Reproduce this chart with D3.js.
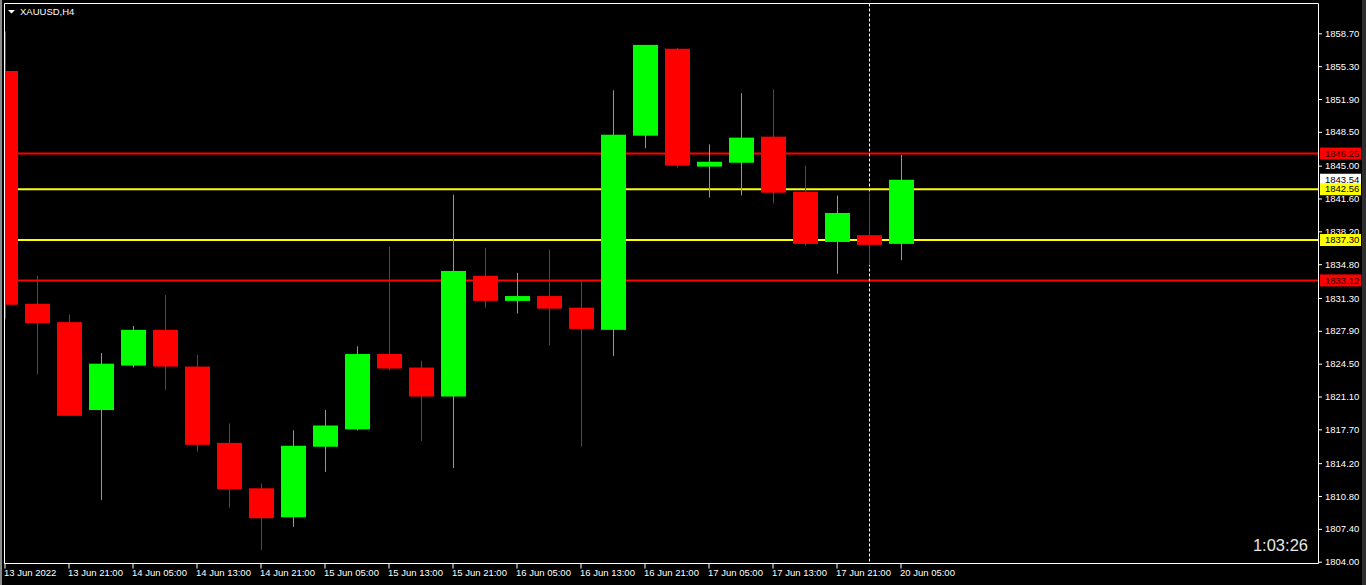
<!DOCTYPE html>
<html>
<head>
<meta charset="utf-8">
<script src="https://cdn.jsdelivr.net/npm/d3@7"></script>
<style>
  html, body { margin: 0; padding: 0; background: #000; overflow: hidden; }
  svg { display: block; }
  text { font-family: "Liberation Sans", Arial, sans-serif; }
</style>
</head>
<body>
<svg id="chart" width="1366" height="585"></svg>
<script>
// XAUUSD H4 candles
var candleTimes = ["13 Jun 13:00","13 Jun 17:00","13 Jun 21:00","14 Jun 01:00","14 Jun 05:00","14 Jun 09:00",
    "14 Jun 13:00","14 Jun 17:00","14 Jun 21:00","15 Jun 01:00","15 Jun 05:00","15 Jun 09:00","15 Jun 13:00",
    "15 Jun 17:00","15 Jun 21:00","16 Jun 01:00","16 Jun 05:00","16 Jun 09:00","16 Jun 13:00","16 Jun 17:00",
    "16 Jun 21:00","17 Jun 01:00","17 Jun 05:00","17 Jun 09:00","17 Jun 13:00","17 Jun 17:00","17 Jun 21:00",
    "20 Jun 01:00","20 Jun 05:00"];
var opens  = [1854.8,1830.7,1828.8,1819.7,1824.3,1828.0,1824.2,1816.3,1811.6,1808.6,1815.9,1817.7,1825.5,
    1824.1,1821.1,1833.6,1831.0,1831.5,1830.3,1828.0,1848.1,1857.1,1844.9,1845.3,1848.0,1842.3,1837.1,1837.8,1836.9];
var highs  = [1858.9,1833.6,1829.6,1825.6,1828.4,1831.6,1825.4,1818.3,1812.1,1817.6,1819.7,1826.3,1836.6,
    1824.8,1842.0,1836.5,1833.9,1836.3,1833.1,1852.8,1857.5,1857.2,1847.2,1852.5,1852.9,1845.0,1841.9,1842.2,1846.1];
var lows   = [1829.1,1823.4,1819.1,1810.4,1824.1,1821.8,1815.4,1809.6,1805.2,1807.6,1813.3,1817.6,1823.8,
    1816.5,1813.7,1830.3,1829.7,1826.4,1815.9,1825.3,1846.8,1844.8,1841.7,1841.9,1841.1,1836.7,1833.8,1834.7,1835.2];
var closes = [1830.6,1828.7,1819.1,1824.5,1828.0,1824.2,1816.1,1811.5,1808.5,1816.0,1818.1,1825.5,1824.0,
    1821.1,1834.1,1831.0,1831.5,1830.2,1828.1,1848.2,1857.5,1845.0,1845.4,1847.9,1842.2,1836.9,1840.1,1836.8,1843.54];

var xTickTimes  = ["13 Jun 13:00","13 Jun 21:00","14 Jun 05:00","14 Jun 13:00","14 Jun 21:00","15 Jun 05:00",
    "15 Jun 13:00","15 Jun 21:00","16 Jun 05:00","16 Jun 13:00","16 Jun 21:00","17 Jun 05:00","17 Jun 13:00",
    "17 Jun 21:00","20 Jun 05:00"];
var xTickLabels = ["13 Jun 2022","13 Jun 21:00","14 Jun 05:00","14 Jun 13:00","14 Jun 21:00","15 Jun 05:00",
    "15 Jun 13:00","15 Jun 21:00","16 Jun 05:00","16 Jun 13:00","16 Jun 21:00","17 Jun 05:00","17 Jun 13:00",
    "17 Jun 21:00","20 Jun 05:00"];
var yTicks = [1858.70,1855.30,1851.90,1848.50,1845.00,1841.60,1838.20,1834.80,1831.30,1827.90,1824.50,
    1821.10,1817.70,1814.20,1810.80,1807.40,1804.00];

var levelPrices = [1846.25, 1842.56, 1837.30, 1833.12];
var levelColors = ["#ff0000", "#ffff00", "#ffff00", "#ff0000"];
var levelText   = ["#2a0000", "#000000", "#000000", "#2a0000"];
var lastPrice = 1843.54;
var cursorTime = "20 Jun 01:00";
var symbolTitle = "XAUUSD,H4";
var countdown = "1:03:26";

var frame = {left: 4.5, top: 3.5, right: 1318.5, bottom: 563.5};
var up = "#00ff00", down = "#ff0000";

var svg = d3.select("#chart");

var x = d3.scaleBand()
    .domain(candleTimes)
    .range([-11, -11 + 32 * candleTimes.length])
    .paddingInner(7 / 32)
    .paddingOuter(3.5 / 32);

var y = d3.scaleLinear()
    .domain([1858.70, 1804.00])
    .range([33.3, 561.7]);

var candles = candleTimes.map(function(t, i) {
    return {t: t, o: opens[i], h: highs[i], l: lows[i], c: closes[i]};
});

svg.append("defs").append("clipPath").attr("id", "plotClip")
    .append("rect")
    .attr("x", frame.left + 0.5).attr("y", frame.top + 0.5)
    .attr("width", frame.right - frame.left - 1)
    .attr("height", frame.bottom - frame.top - 1);

// outer window edges
svg.append("line").attr("x1", 1).attr("x2", 1).attr("y1", 0).attr("y2", 585)
    .attr("stroke", "#8a8a8a").attr("stroke-width", 2);
svg.append("rect").attr("x", 1362).attr("y", 0).attr("width", 4).attr("height", 585)
    .attr("fill", "#2e2e2e");

var plot = svg.append("g").attr("clip-path", "url(#plotClip)");

// price levels
plot.selectAll(".level").data(levelPrices).enter().append("line")
    .attr("class", "level")
    .attr("x1", frame.left).attr("x2", frame.right)
    .attr("y1", function(d) { return y(d); })
    .attr("y2", function(d) { return y(d); })
    .attr("stroke", function(d, i) { return levelColors[i]; })
    .attr("stroke-width", 2);

// period separator
var cx = x(cursorTime) + x.bandwidth() / 2;
plot.append("line")
    .attr("x1", Math.round(cx) + 0.5).attr("x2", Math.round(cx) + 0.5)
    .attr("y1", frame.top).attr("y2", frame.bottom)
    .attr("stroke", "#ffffff").attr("stroke-width", 1)
    .attr("stroke-dasharray", "3,2");

// candles
var cg = plot.selectAll(".candle").data(candles).enter().append("g").attr("class", "candle");
cg.append("line")
    .attr("x1", function(d) { return Math.round(x(d.t) + x.bandwidth() / 2) + 0.5; })
    .attr("x2", function(d) { return Math.round(x(d.t) + x.bandwidth() / 2) + 0.5; })
    .attr("y1", function(d) { return y(d.h); })
    .attr("y2", function(d) { return y(d.l); })
    .attr("stroke", function(d) { return d.c >= d.o ? up : down; })
    .attr("stroke-width", 1);
cg.append("rect")
    .attr("x", function(d) { return Math.round(x(d.t)); })
    .attr("width", Math.round(x.bandwidth()))
    .attr("y", function(d) { return y(Math.max(d.o, d.c)); })
    .attr("height", function(d) { return Math.max(2, y(Math.min(d.o, d.c)) - y(Math.max(d.o, d.c))); })
    .attr("fill", function(d) { return d.c >= d.o ? up : down; });

// frame
svg.append("path")
    .attr("d", "M" + frame.left + "," + frame.bottom + "V" + frame.top + "H" + frame.right + "V" + frame.bottom + "Z")
    .attr("fill", "none").attr("stroke", "#ffffff").attr("stroke-width", 1);

// x axis
var xAxis = d3.axisBottom(x)
    .tickValues(xTickTimes)
    .tickSize(5)
    .tickPadding(1)
    .tickFormat(function(d) { return xTickLabels[xTickTimes.indexOf(d)]; });
var gx = svg.append("g").attr("transform", "translate(0," + frame.bottom + ")").call(xAxis);
gx.select(".domain").remove();
gx.selectAll("line").attr("stroke", "#ffffff");
gx.selectAll("text")
    .attr("fill", "#ffffff")
    .attr("font-size", "9.5px")
    .attr("font-family", "Liberation Sans, Arial, sans-serif")
    .style("text-anchor", "start")
    .attr("dx", "-1");

// y axis
var yAxis = d3.axisRight(y)
    .tickValues(yTicks)
    .tickSize(3)
    .tickPadding(3)
    .tickFormat(d3.format(".2f"));
var gy = svg.append("g").attr("transform", "translate(" + (frame.right + 0.5) + ",0)").call(yAxis);
gy.select(".domain").remove();
gy.selectAll("line").attr("stroke", "#ffffff");
gy.selectAll("text")
    .attr("fill", "#ffffff")
    .attr("font-size", "9.5px")
    .attr("font-family", "Liberation Sans, Arial, sans-serif");

// price tags on the scale
function priceTag(price, bg, fg) {
    var g = svg.append("g").attr("transform", "translate(" + (frame.right + 1.5) + "," + y(price) + ")");
    g.append("rect").attr("x", 0).attr("y", -6).attr("width", 41).attr("height", 12).attr("fill", bg);
    g.append("text").attr("x", 5).attr("y", 0).attr("dy", "0.34em")
        .attr("font-size", "9.5px").attr("fill", fg)
        .text(d3.format(".2f")(price));
}
priceTag(lastPrice, "#ffffff", "#000000");
levelPrices.forEach(function(p, i) { priceTag(p, levelColors[i], levelText[i]); });

// title
svg.append("path").attr("d", "M8,10H15L11.5,13.5Z").attr("fill", "#ffffff");
svg.append("text").attr("x", 20).attr("y", 15)
    .attr("font-size", "9.5px").attr("fill", "#ffffff").text(symbolTitle);

// bar countdown
svg.append("text").attr("x", 1308).attr("y", 551)
    .attr("text-anchor", "end")
    .attr("font-size", "16.5px").attr("fill", "#e6e6e6").text(countdown);
</script>
</body>
</html>
